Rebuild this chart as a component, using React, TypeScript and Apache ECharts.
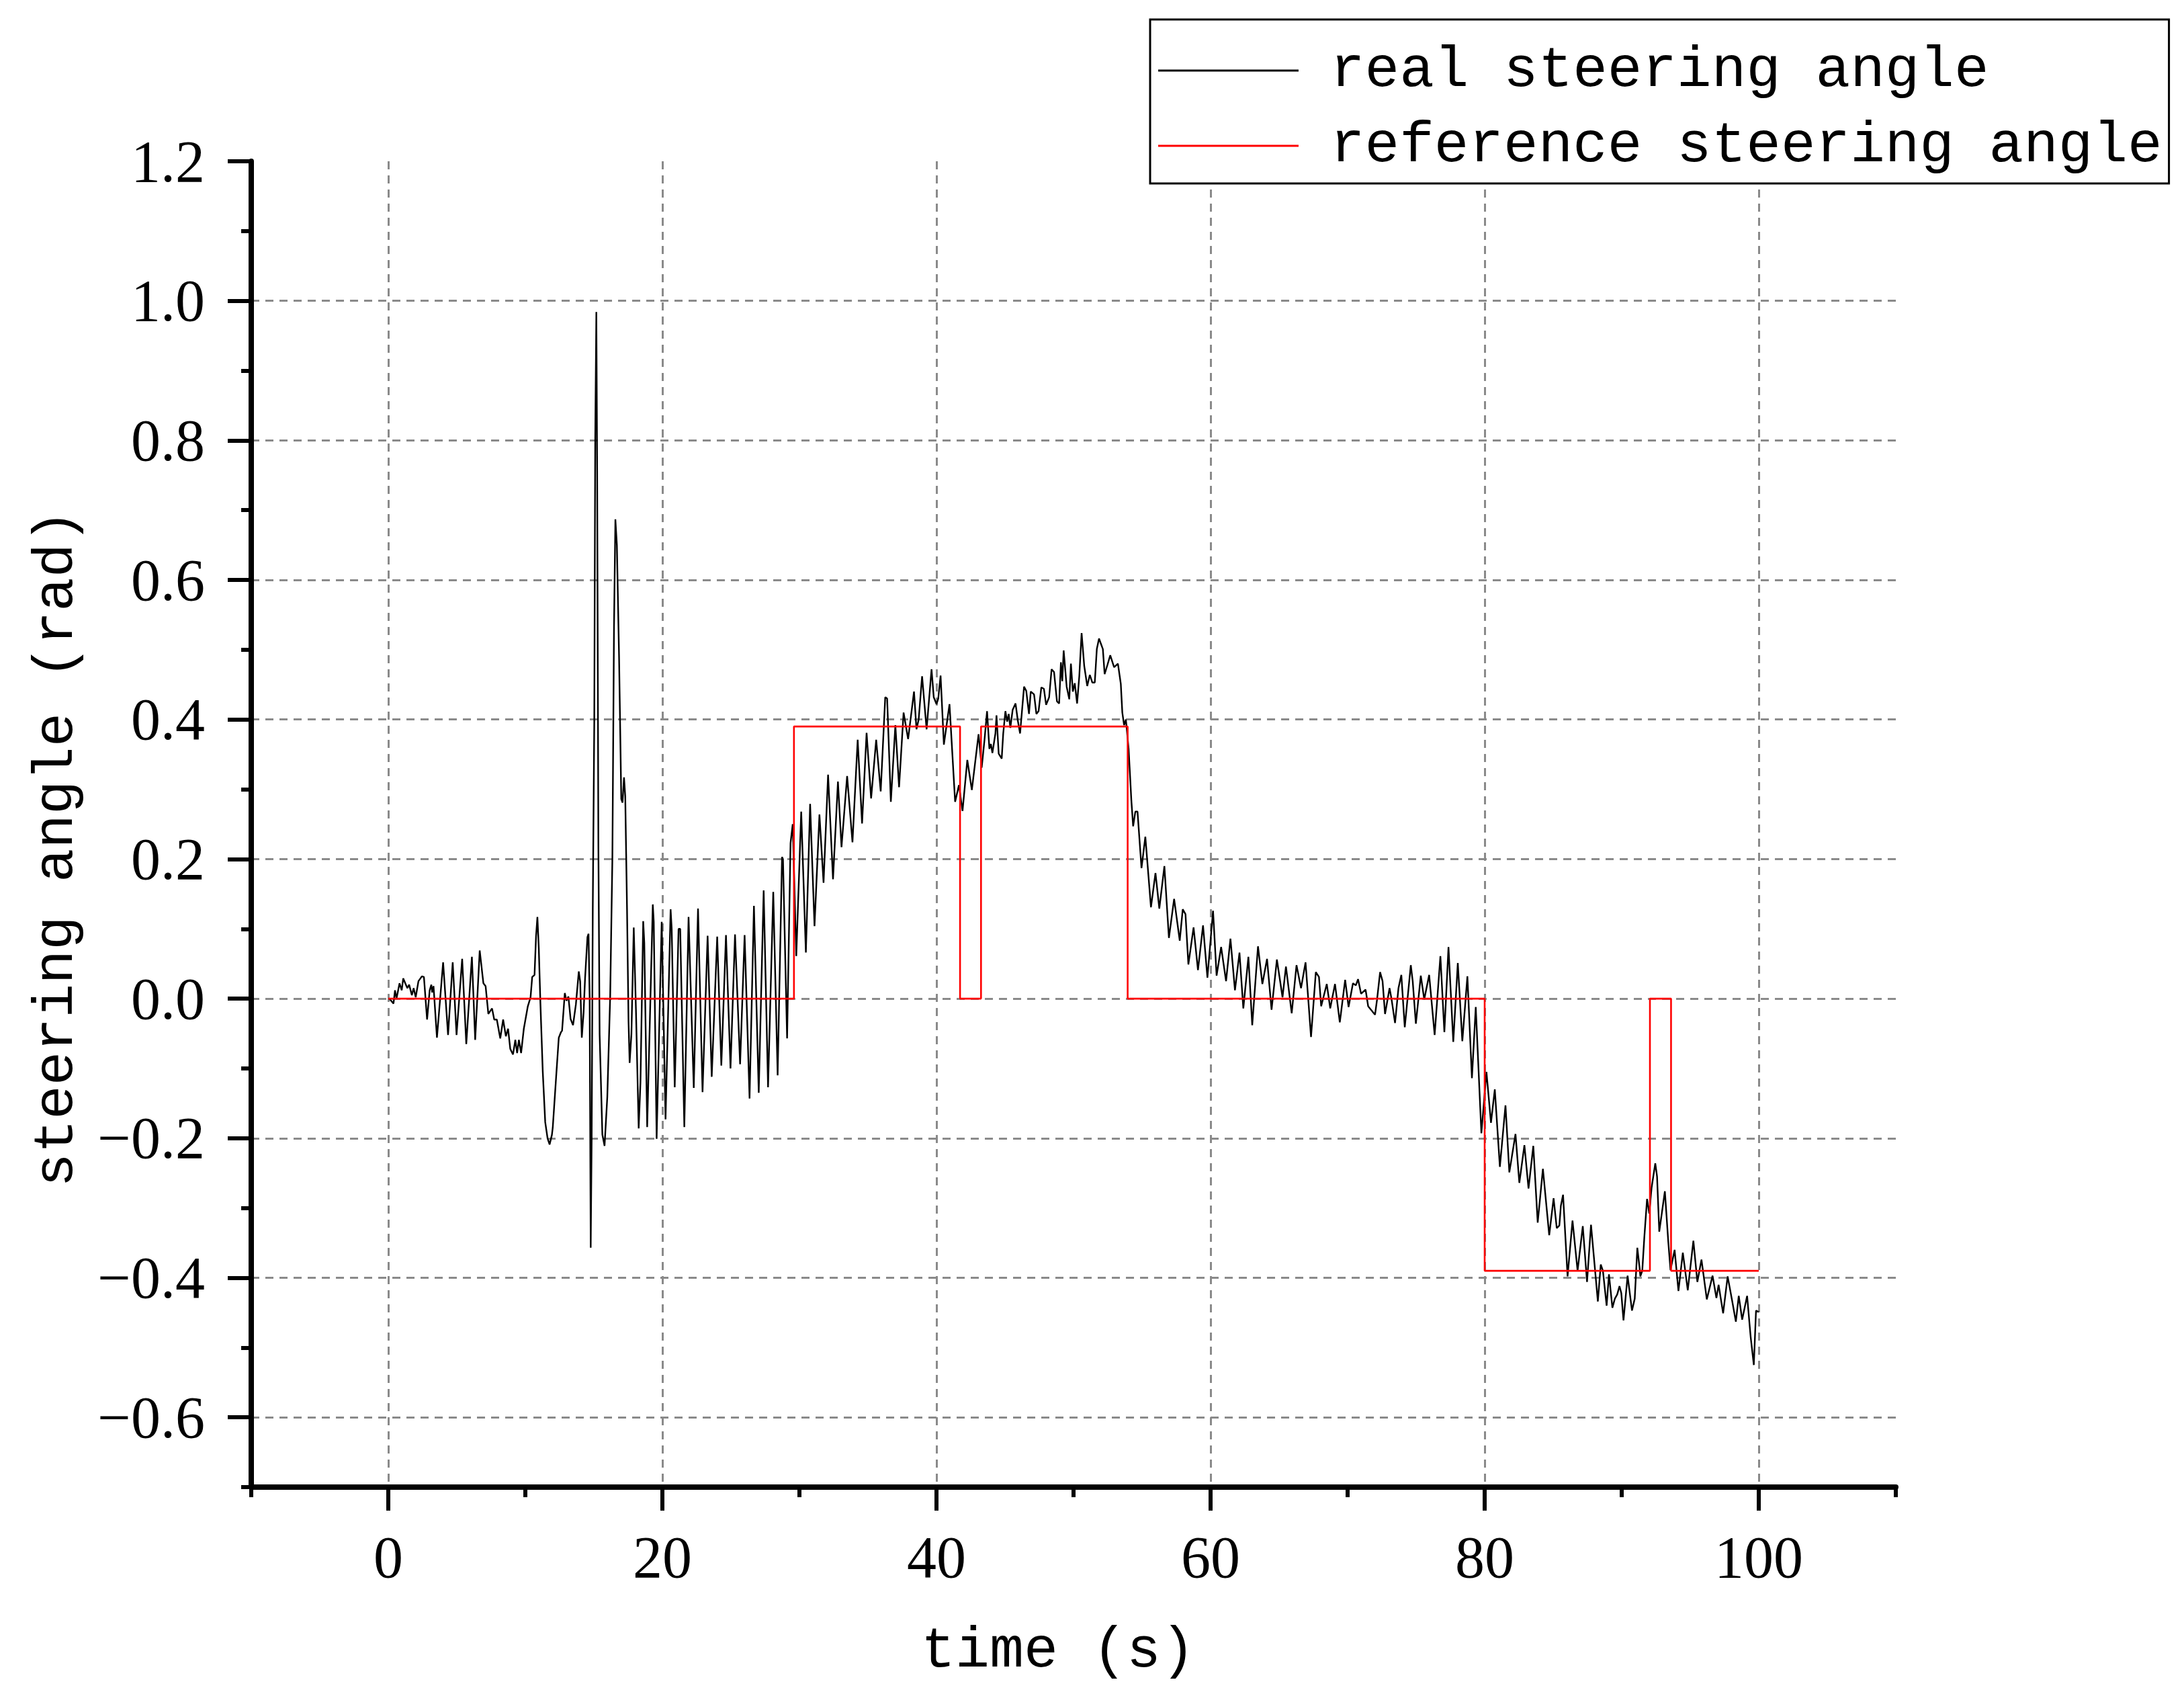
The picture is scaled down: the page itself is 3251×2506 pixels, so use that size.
import React, { useEffect, useRef } from "react";
import * as echarts from "echarts";

// real steering angle (time in s, angle in rad)
const realTime = [
  0.0, 0.08, 0.38, 0.49, 0.6, 0.82, 0.98, 1.09, 1.39, 1.52, 1.72, 1.85, 2.0, 2.2, 2.45, 2.6, 2.83, 3.02, 3.14, 3.2, 3.3, 3.55, 4.0, 4.36, 4.7, 4.98, 5.39, 5.69, 6.1, 6.34, 6.67, 6.94, 7.1, 7.3, 7.57, 7.73, 7.92, 8.17, 8.38, 8.58, 8.74, 8.9, 9.1, 9.27, 9.4, 9.53, 9.69, 9.89,
  10.18, 10.38, 10.5, 10.67, 10.78, 10.88, 10.98, 11.1, 11.27, 11.45, 11.62, 11.77, 11.94, 12.0, 12.22, 12.44, 12.6, 12.68, 12.88, 13.0, 13.14, 13.3, 13.48, 13.69, 13.9, 14.0, 14.12, 14.25, 14.36, 14.53, 14.61, 14.69, 14.77, 14.84, 14.92, 15.03, 15.1, 15.18, 15.24, 15.33, 15.42, 15.62, 15.78, 15.98, 16.19, 16.35, 16.47, 16.57, 16.68, 16.84, 17.0, 17.09, 17.2, 17.29, 17.42, 17.53, 17.61, 17.74, 17.91, 18.07, 18.27, 18.4, 18.6, 18.68, 18.89,
  19.3, 19.37, 19.58, 19.95, 20.23, 20.6, 20.68, 20.9, 21.18, 21.3, 21.6, 21.91, 22.29, 22.6, 22.93, 23.3, 23.6, 24.0, 24.3, 24.64, 24.97, 25.3, 25.67, 26.0, 26.36, 26.68, 27.03, 27.39, 27.71, 28.09, 28.41, 28.73, 28.8, 29.1, 29.35, 29.51, 29.77, 30.13, 30.47, 30.78, 31.1, 31.46,
  31.76, 32.09, 32.45, 32.81, 33.07, 33.48, 33.87, 34.25, 34.57, 34.9, 35.23, 35.6, 35.93, 36.26, 36.4, 36.67, 37.0, 37.27, 37.6, 37.93, 38.36, 38.54, 38.7, 38.95, 39.28, 39.64, 39.8, 40.0, 40.13, 40.3, 40.54, 40.95, 41.36, 41.64, 41.9, 42.25, 42.58, 43.07, 43.3,
  43.5, 43.69, 43.86, 43.97, 44.08, 44.3, 44.38, 44.54, 44.76, 44.87, 45.03, 45.16, 45.27, 45.39, 45.56, 45.77, 45.93, 46.1, 46.39, 46.55, 46.75, 46.88, 47.12, 47.29, 47.45, 47.65, 47.84, 48.0, 48.22, 48.4, 48.58, 48.79, 48.95, 49.08, 49.18, 49.28, 49.5, 49.69, 49.81, 49.95, 50.09, 50.26, 50.42, 50.59, 50.78, 51.0, 51.19, 51.37, 51.55, 51.7, 51.86, 52.14, 52.27, 52.47, 52.68, 52.96, 53.24, 53.45, 53.56, 53.69, 53.82, 54.02, 54.22, 54.35, 54.51, 54.67, 54.96, 55.24, 55.65, 55.98, 56.26, 56.63,
  56.96, 57.34, 57.75, 57.97, 58.17, 58.38, 58.76, 59.08, 59.45, 59.77, 60.18, 60.44, 60.77, 61.13, 61.45, 61.78, 62.11, 62.39, 62.76, 63.04, 63.46, 63.78, 64.12, 64.45, 64.84, 65.25, 65.5, 65.92, 66.27, 66.6, 66.93, 67.33, 67.68, 67.91, 68.07, 68.48, 68.73, 69.08, 69.43, 69.82, 70.07, 70.39, 70.6, 70.76, 70.98, 71.31, 71.5, 72.0, 72.15, 72.37,
  72.55, 72.73, 73.06, 73.2, 73.46, 73.71, 73.92, 74.17, 74.61, 74.75, 74.98, 75.34, 75.59, 75.95, 76.35, 76.77, 77.06, 77.36, 77.71, 78.04, 78.37, 78.74, 79.07, 79.35, 79.76, 80.13, 80.46, 80.74, 81.11, 81.52, 81.8, 82.25, 82.53, 82.9,
  83.2, 83.55, 83.87, 84.25, 84.71, 85.03, 85.26, 85.45, 85.56, 85.72, 86.05, 86.41, 86.78, 87.16, 87.47, 87.76, 88.26, 88.47, 88.63, 88.9, 89.07, 89.32, 89.5, 89.67, 89.84, 89.97, 90.13, 90.43, 90.75, 90.95, 91.14, 91.3, 91.36, 91.5, 91.65, 91.85, 92.01, 92.18, 92.45, 92.58, 92.74, 93.15, 93.4, 93.56, 93.86, 94.14, 94.46, 94.82, 95.23, 95.52, 95.82, 96.21, 96.63, 96.91, 97.07, 97.4, 97.73, 98.05, 98.33, 98.54, 98.79, 99.15, 99.41, 99.64, 99.8, 100.0,
];
const realAngle = [
  0.0, 0.0, -0.007, 0.012, 0.0, 0.022, 0.012, 0.029, 0.015, 0.02, 0.005, 0.015, 0.002, 0.025, 0.032, 0.031, -0.03, 0.012, 0.02, 0.009, 0.018, -0.056, 0.052, -0.052, 0.052, -0.052, 0.057, -0.065, 0.06, -0.059, 0.069, 0.022, 0.018, -0.022, -0.014, -0.03, -0.03, -0.057, -0.03, -0.054, -0.043, -0.072, -0.08, -0.059, -0.078, -0.059, -0.078, -0.043,
  -0.011, 0.002, 0.031, 0.034, 0.089, 0.117, 0.073, -0.007, -0.104, -0.177, -0.2, -0.209, -0.195, -0.185, -0.12, -0.056, -0.048, -0.046, 0.008, -0.003, 0.003, -0.029, -0.038, -0.008, 0.039, 0.025, -0.056, -0.02, 0.03, 0.088, 0.093, 0.003, -0.357, -0.2, 0.128, 0.398, 0.802, 0.984, 0.757, 0.218, -0.051, -0.195, -0.211, -0.141, 0.003, 0.2, 0.533, 0.687, 0.65, 0.488, 0.286, 0.281, 0.317, 0.29, 0.128, -0.033, -0.092, -0.051, 0.102, -0.015, -0.186, -0.12, 0.111, 0.08, -0.184,
  0.135, 0.11, -0.201, 0.11, -0.173, 0.128, 0.1, -0.127, 0.1, 0.1, -0.184, 0.117, -0.128, 0.129, -0.134, 0.09, -0.112, 0.089, -0.096, 0.091, -0.1, 0.092, -0.094, 0.091, -0.143, 0.133, -0.135, 0.155, -0.127, 0.153, -0.11, 0.203, 0.2, -0.057, 0.223, 0.25, 0.061, 0.268, 0.066, 0.279, 0.104, 0.264,
  0.166, 0.321, 0.171, 0.311, 0.217, 0.319, 0.224, 0.371, 0.251, 0.381, 0.287, 0.371, 0.297, 0.432, 0.43, 0.282, 0.392, 0.303, 0.41, 0.372, 0.44, 0.386, 0.4, 0.462, 0.386, 0.472, 0.432, 0.422, 0.43, 0.463, 0.364, 0.422, 0.282, 0.306, 0.269, 0.342, 0.299, 0.379, 0.331,
  0.37, 0.412, 0.358, 0.365, 0.352, 0.38, 0.406, 0.351, 0.344, 0.38, 0.412, 0.397, 0.408, 0.388, 0.414, 0.423, 0.399, 0.38, 0.447, 0.441, 0.408, 0.44, 0.436, 0.408, 0.412, 0.446, 0.444, 0.421, 0.432, 0.472, 0.468, 0.426, 0.423, 0.482, 0.455, 0.499, 0.447, 0.429, 0.48, 0.44, 0.452, 0.423, 0.462, 0.524, 0.477, 0.448, 0.464, 0.453, 0.453, 0.501, 0.516, 0.501, 0.465, 0.478, 0.492, 0.475, 0.48, 0.451, 0.41, 0.392, 0.4, 0.358, 0.284, 0.247, 0.268, 0.268, 0.187, 0.232, 0.131, 0.18, 0.129, 0.19,
  0.087, 0.143, 0.083, 0.128, 0.121, 0.049, 0.102, 0.041, 0.105, 0.03, 0.126, 0.033, 0.074, 0.025, 0.086, 0.012, 0.066, -0.014, 0.06, -0.038, 0.075, 0.021, 0.057, -0.016, 0.056, 0.002, 0.046, -0.021, 0.048, 0.015, 0.052, -0.055, 0.038, 0.031, -0.011, 0.021, -0.014, 0.021, -0.034, 0.027, -0.012, 0.022, 0.019, 0.028, 0.007, 0.013, -0.011, -0.023, -0.001, 0.038,
  0.025, -0.022, 0.015, 0.0, -0.035, 0.015, 0.034, -0.041, 0.048, 0.025, -0.036, 0.033, -0.001, 0.034, -0.052, 0.061, -0.048, 0.074, -0.062, 0.051, -0.061, 0.032, -0.114, -0.012, -0.193, -0.105, -0.178, -0.13, -0.241, -0.153, -0.249, -0.194, -0.264, -0.21,
  -0.272, -0.211, -0.321, -0.244, -0.339, -0.286, -0.329, -0.325, -0.297, -0.281, -0.398, -0.318, -0.39, -0.326, -0.406, -0.324, -0.434, -0.381, -0.39, -0.44, -0.395, -0.443, -0.43, -0.424, -0.412, -0.422, -0.461, -0.397, -0.447, -0.43, -0.357, -0.385, -0.398, -0.39, -0.342, -0.287, -0.308, -0.271, -0.236, -0.255, -0.334, -0.276, -0.349, -0.389, -0.36, -0.419, -0.364, -0.418, -0.347, -0.406, -0.374, -0.431, -0.397, -0.429, -0.41, -0.451, -0.398, -0.432, -0.463, -0.426, -0.46, -0.426, -0.485, -0.525, -0.447, -0.449,
];

// reference steering angle: change points of the step signal
const refTime = [0, 29.6, 41.72, 43.25, 53.95, 80.0, 92.06, 93.6, 100];
const refAngle = [0, 0.39, 0, 0.39, 0, -0.39, 0, -0.39, -0.39];

const xMajorTicks = [0, 20, 40, 60, 80, 100];
const yMajorTicks = [-0.6, -0.4, -0.2, 0, 0.2, 0.4, 0.6, 0.8, 1.0, 1.2];
const seriesNames = ["real steering angle", "reference steering angle"];
const axisNames = { x: "time (s)", y: "steering angle (rad)" };

const mono = "'Liberation Mono', 'DejaVu Sans Mono', monospace";
const serif = "'Liberation Serif', 'DejaVu Serif', serif";

const fmtY = (v: number) => {
  const r = Math.round(v * 10) / 10;
  return (r < 0 ? "\u2212" : "") + Math.abs(r).toFixed(1);
};

export default function App() {
  const ref = useRef<HTMLDivElement>(null);
  useEffect(() => {
    document.body.style.margin = "0";
    const chart = echarts.init(ref.current!, null, { renderer: "svg" });
    const gridLine = { color: "#8a8a8a", width: 3, type: [12, 9] as any };
    const tickStyle = { color: "#000", width: 6 };
    const option: any = {
      animation: false,
      backgroundColor: "#ffffff",
      grid: { left: 374, right: 429, top: 240, bottom: 293, containLabel: false },
      legend: {
        show: true,
        orient: "vertical",
        left: 1712,
        top: 29,
        padding: [20, 10, 0, 12],
        itemGap: 0,
        itemWidth: 209,
        itemHeight: 3,
        icon: "rect",
        borderColor: "#000",
        borderWidth: 3,
        backgroundColor: "#fff",
        textStyle: { fontFamily: mono, fontSize: 86, color: "#000", lineHeight: 112, padding: [0, 0, 0, 42] },
        data: seriesNames,
      },
      xAxis: [
        {
          type: "value",
          min: -10,
          max: 110,
          interval: 10,
          position: "bottom",
          name: axisNames.x,
          nameLocation: "middle",
          nameGap: 202,
          nameTextStyle: { fontFamily: mono, fontSize: 85, color: "#000", padding: [0, 46, 0, 0] },
          axisLine: { show: true, onZero: false, lineStyle: { color: "#000", width: 8 } },
          axisTick: { show: true, inside: false, length: 15, lineStyle: tickStyle },
          axisLabel: {
            show: true,
            margin: 60,
            fontFamily: serif,
            fontSize: 88,
            color: "#000",
            formatter: (v: number) => {
              const r = Math.round(v);
              return r % 20 === 0 && r >= 0 && r <= 100 ? String(r) : "";
            },
          },
          splitLine: { show: false },
        },
        {
          type: "value",
          min: -10,
          max: 110,
          position: "bottom",
          axisLine: { show: false, onZero: false },
          axisTick: { show: true, inside: false, length: 35, customValues: xMajorTicks, lineStyle: tickStyle },
          axisLabel: { show: false },
          splitLine: { show: true, lineStyle: gridLine },
        },
      ],
      yAxis: [
        {
          type: "value",
          min: -0.7,
          max: 1.2,
          interval: 0.1,
          position: "left",
          name: axisNames.y,
          nameLocation: "middle",
          nameRotate: 90,
          nameGap: 248,
          nameTextStyle: { fontFamily: mono, fontSize: 84, color: "#000", padding: [0, 72, 0, 0] },
          axisLine: { show: true, onZero: false, lineStyle: { color: "#000", width: 8 } },
          axisTick: { show: true, inside: false, length: 15, lineStyle: tickStyle },
          axisLabel: {
            show: true,
            margin: 69,
            fontFamily: serif,
            fontSize: 88,
            color: "#000",
            formatter: (v: number) => (Math.abs(Math.round(v * 10)) % 2 === 0 ? fmtY(v) : ""),
          },
          splitLine: { show: false },
        },
        {
          type: "value",
          min: -0.7,
          max: 1.2,
          position: "left",
          axisLine: { show: false, onZero: false },
          axisTick: { show: true, inside: false, length: 35, customValues: yMajorTicks, lineStyle: tickStyle },
          axisLabel: { show: false },
          splitLine: { show: true, showMaxLine: false, lineStyle: gridLine },
        },
      ],
      series: [
        {
          name: seriesNames[0],
          type: "line",
          xAxisIndex: 0,
          yAxisIndex: 0,
          data: realTime.map((t, i) => [t, realAngle[i]]),
          symbol: "none",
          showSymbol: false,
          lineStyle: { color: "#000", width: 2.4 },
          itemStyle: { color: "#000" },
          z: 2,
        },
        {
          name: seriesNames[1],
          type: "line",
          xAxisIndex: 0,
          yAxisIndex: 0,
          step: "end",
          data: refTime.map((t, i) => [t, refAngle[i]]),
          symbol: "none",
          showSymbol: false,
          lineStyle: { color: "#ff0000", width: 2.6 },
          itemStyle: { color: "#ff0000" },
          z: 3,
        },
      ],
    };
    chart.setOption(option);
    return () => chart.dispose();
  }, []);
  return <div ref={ref} style={{ width: 3251, height: 2506 }} />;
}
